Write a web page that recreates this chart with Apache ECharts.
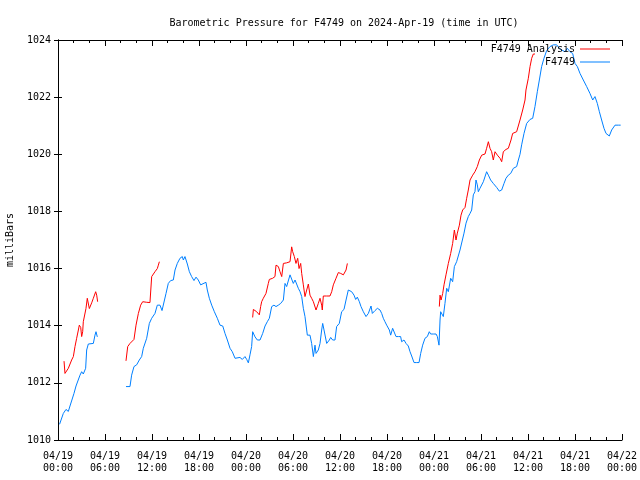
<!DOCTYPE html>
<html>
<head>
<meta charset="utf-8">
<script src="https://cdn.jsdelivr.net/npm/echarts@6/dist/echarts.min.js"></script>
<style>html,body{margin:0;padding:0;background:#fff;}#c{width:640px;height:480px;}</style>
</head>
<body>
<div id="c"></div>
<script>
// Hours since 2024-04-19 00:00 UTC; null marks a data gap
const blueHours = [0.2,0.68,1.02,1.32,1.53,1.74,2.04,2.3,2.47,2.81,3.02,3.23,3.53,3.66,3.87,4.09,4.51,4.72,4.85,5.02,5.06,
  6.5,
  8.68,9.19,9.4,9.7,10.04,10.38,10.68,10.89,11.32,11.66,11.96,12.38,12.68,13.02,13.28,13.53,13.79,14.08,14.38,14.72,14.94,15.23,15.57,15.87,16.0,16.21,16.51,16.77,17.06,17.36,17.62,17.91,18.21,18.43,18.89,19.06,19.32,19.62,19.96,20.34,20.68,21.03,21.32,21.62,21.96,22.25,22.6,22.81,23.23,23.53,23.87,24.09,24.3,24.51,24.72,24.85,25.15,25.45,25.79,26.13,26.43,26.72,26.98,27.28,27.57,27.83,28.13,28.43,28.77,28.98,29.19,29.4,29.62,29.75,30.04,30.26,30.47,30.68,30.9,31.11,31.32,31.53,31.83,32.17,32.38,32.6,32.81,32.94,33.23,33.45,33.66,33.79,33.96,34.3,34.64,34.81,35.06,35.36,35.57,35.91,36.21,36.51,36.77,37.06,37.28,37.49,37.79,38.0,38.21,38.47,38.68,38.98,39.32,39.62,39.96,40.13,40.47,40.77,41.11,41.32,41.53,41.74,41.96,42.3,42.47,42.72,42.94,43.15,43.45,43.74,43.87,44.17,44.43,44.72,44.94,45.15,45.45,45.79,46.09,46.3,46.55,46.85,47.15,47.4,47.57,47.91,48.26,48.43,48.64,48.77,48.85,49.19,49.4,49.62,49.83,50.13,50.38,50.6,50.89,51.11,51.32,51.53,51.83,52.09,52.38,52.6,52.81,53.02,53.23,53.36,53.53,53.66,53.87,54.09,54.3,54.51,54.72,54.94,55.23,55.57,56.0,56.34,56.64,56.94,57.19,57.49,57.79,58.13,58.55,58.77,58.98,59.19,59.49,59.83,60.26,60.6,60.89,61.19,61.45,61.74,62.04,62.38,62.81,63.23,63.66,64.0,64.3,64.72,65.02,65.36,65.7,66.0,66.3,66.64,67.06,67.49,67.91,68.26,68.55,68.85,69.11,69.4,69.7,69.96,70.13,70.38,70.68,70.89,71.11,71.53,71.83];
const bluePressure = [1010.55,1010.93,1011.07,1011.0,1011.19,1011.19,1011.63,1011.89,1011.93,1012.27,1012.39,1012.31,1012.51,1013.15,1013.36,1013.38,1013.38,1013.67,1013.79,1013.61,1013.6,
  null,
  1011.87,1011.87,1012.27,1012.57,1012.63,1012.8,1012.92,1013.21,1013.56,1014.08,1014.26,1014.43,1014.72,1014.72,1014.53,1014.53,1015.13,1015.48,1015.58,1015.6,1015.95,1016.18,1016.36,1016.42,1016.3,1016.42,1016.16,1015.89,1015.72,1015.58,1015.7,1015.6,1015.43,1015.48,1015.52,1015.25,1014.96,1014.72,1014.49,1014.26,1014.02,1013.99,1013.73,1013.5,1013.21,1013.09,1012.86,1012.92,1012.89,1012.82,1012.92,1012.82,1012.7,1012.98,1013.27,1013.79,1013.61,1013.5,1013.5,1013.73,1013.99,1014.14,1014.26,1014.67,1014.72,1014.67,1014.72,1014.78,1014.9,1015.48,1015.37,1015.43,1015.78,1015.8,1015.48,1015.6,1015.54,1015.31,1015.19,1015.02,1014.61,1014.32,1013.67,1013.67,1013.38,1012.92,1013.32,1013.03,1013.15,1013.38,1013.85,1014.08,1013.85,1013.38,1013.5,1013.59,1013.5,1013.5,1013.97,1014.08,1014.49,1014.57,1014.9,1015.25,1015.31,1015.19,1015.07,1014.92,1015.0,1014.84,1014.67,1014.49,1014.32,1014.43,1014.69,1014.43,1014.53,1014.61,1014.55,1014.43,1014.26,1014.14,1014.02,1013.85,1013.67,1013.91,1013.87,1013.62,1013.62,1013.62,1013.44,1013.5,1013.38,1013.29,1013.09,1012.94,1012.71,1012.71,1012.71,1013.03,1013.32,1013.56,1013.62,1013.79,1013.71,1013.71,1013.71,1013.62,1013.32,1014.2,1014.49,1014.32,1014.78,1015.31,1015.19,1015.66,1015.54,1016.07,1016.24,1016.18,1016.65,1016.71,1017.24,1017.59,1017.82,1017.93,1018.05,1018.58,1018.69,1019.1,1018.93,1018.69,1018.81,1018.75,1019.04,1019.1,1019.39,1019.27,1019.1,1018.98,1018.84,1018.71,1018.75,1018.98,1019.16,1019.27,1019.33,1019.51,1019.57,1019.8,1020.0,1020.33,1020.73,1021.08,1021.22,1021.26,1021.67,1022.19,1022.6,1023.07,1023.36,1023.63,1023.77,1023.83,1023.83,1023.71,1023.65,1023.59,1023.71,1023.59,1023.53,1023.18,1023.07,1022.83,1022.6,1022.37,1022.13,1021.9,1022.02,1021.78,1021.49,1021.2,1020.91,1020.73,1020.79,1020.64,1020.85,1020.91,1021.02,1021.02,1021.02];

const redHours = [0.77,0.89,1.32,1.74,1.96,2.17,2.38,2.6,2.72,2.9,3.02,3.15,3.23,3.57,3.74,4.0,4.3,4.51,4.81,4.94,5.06,
  6.5,
  8.68,8.9,9.19,9.7,9.96,10.26,10.55,10.81,11.32,11.74,11.96,12.38,12.68,12.81,12.94,
  18.0,
  24.85,24.94,25.36,25.7,25.87,26.0,26.21,26.55,26.85,26.98,27.4,27.7,27.83,28.13,28.34,28.56,28.77,29.19,29.62,29.83,29.96,30.17,30.38,30.6,30.77,30.98,31.11,31.32,31.53,31.75,31.96,32.17,32.38,32.6,32.81,32.94,33.23,33.45,33.66,33.74,33.87,34.3,34.72,34.94,35.15,35.49,35.79,36.09,36.43,36.64,36.77,36.94,
  42.0,
  48.68,48.77,48.9,49.11,49.28,49.53,49.83,50.13,50.38,50.6,50.81,50.98,51.24,51.45,51.66,51.96,52.17,52.38,52.6,52.94,53.23,53.53,53.79,54.09,54.51,54.72,54.94,55.15,55.36,55.57,55.79,56.09,56.43,56.64,56.85,57.19,57.49,57.83,58.04,58.55,58.77,58.98,59.32,59.62,59.74,60.04,60.26,60.47,60.68,60.89];
const redPressure = [1012.76,1012.33,1012.51,1012.8,1012.92,1013.27,1013.56,1013.85,1014.02,1013.94,1013.62,1013.79,1014.14,1014.6,1014.96,1014.6,1014.8,1014.96,1015.19,1015.07,1014.84,
  null,
  1012.77,1013.27,1013.38,1013.52,1014.02,1014.43,1014.72,1014.84,1014.82,1014.81,1015.72,1015.89,1016.0,1016.12,1016.24,
  null,
  1014.29,1014.57,1014.49,1014.38,1014.67,1014.84,1014.96,1015.13,1015.48,1015.62,1015.66,1015.72,1016.12,1016.07,1015.89,1015.72,1016.18,1016.2,1016.24,1016.76,1016.59,1016.42,1016.18,1016.36,1016.0,1016.18,1015.83,1015.43,1015.02,1015.25,1015.46,1015.07,1014.96,1014.84,1014.9,1014.55,1014.78,1014.96,1014.72,1014.55,1015.04,1015.04,1015.04,1015.19,1015.43,1015.66,1015.86,1015.83,1015.78,1015.72,1015.95,1016.18,
  null,
  1014.67,1015.07,1014.9,1015.13,1015.43,1015.78,1016.18,1016.53,1016.88,1017.35,1017.0,1017.24,1017.52,1017.87,1018.05,1018.14,1018.46,1018.75,1019.1,1019.27,1019.39,1019.57,1019.8,1019.97,1020.01,1020.21,1020.44,1020.21,1020.09,1019.8,1020.09,1019.97,1019.86,1019.74,1020.09,1020.17,1020.21,1020.5,1020.73,1020.79,1020.85,1021.2,1021.55,1021.9,1022.25,1022.66,1023.07,1023.36,1023.51,1023.51];

const xTickLabels = ['04/19\n00:00','04/19\n06:00','04/19\n12:00','04/19\n18:00','04/20\n00:00','04/20\n06:00','04/20\n12:00','04/20\n18:00','04/21\n00:00','04/21\n06:00','04/21\n12:00','04/21\n18:00','04/22\n00:00'];
const seriesNames = ['F4749 Analysis', 'F4749'];
const titleText = 'Barometric Pressure for F4749 on 2024-Apr-19 (time in UTC)';
const yAxisName = 'milliBars';

const FONT = 'DejaVu Sans Mono';
const pairs = (xs, ys) => xs.map((x, i) => [x, ys[i]]);

const chart = echarts.init(document.getElementById('c'), null, {renderer: 'canvas'});
const xCommon = {
  type: 'value', min: 0, max: 72, interval: 6,
  axisLine: {show: true, lineStyle: {color: '#000', width: 1}},
  axisTick: {show: true, inside: true, length: 6, lineStyle: {color: '#000'}},
  minorTick: {show: true, splitNumber: 3, length: 3, lineStyle: {color: '#000'}},
  splitLine: {show: false}
};
const yCommon = {
  type: 'value', min: 1010, max: 1024, interval: 2,
  axisLine: {show: true, lineStyle: {color: '#000', width: 1}},
  axisTick: {show: true, inside: true, length: 4, lineStyle: {color: '#000'}},
  splitLine: {show: false}
};
chart.setOption({
  animation: false,
  backgroundColor: '#fff',
  title: {
    text: titleText, left: 339, top: 13, textAlign: 'center',
    textStyle: {fontFamily: FONT, fontSize: 10, fontWeight: 'normal', color: '#000'}
  },
  legend: {
    orient: 'vertical', right: 25, top: 39, align: 'right',
    itemWidth: 30, itemHeight: 1, itemGap: 3, icon: 'rect',
    textStyle: {fontFamily: FONT, fontSize: 10, color: '#000'},
    data: seriesNames
  },
  grid: {left: 58, right: 18, top: 40, bottom: 40, containLabel: false, outerBoundsMode: 'none'},
  xAxis: [
    Object.assign({}, xCommon, {
      position: 'bottom',
      axisLabel: {
        show: true, color: '#000', fontFamily: FONT, fontSize: 10, lineHeight: 12, margin: 10,
        formatter: v => xTickLabels[Math.round(v / 6)]
      }
    }),
    Object.assign({}, xCommon, {position: 'top', axisLabel: {show: false}})
  ],
  yAxis: [
    Object.assign({}, yCommon, {
      position: 'left',
      name: yAxisName, nameLocation: 'middle', nameRotate: 90, nameGap: 43,
      nameTextStyle: {fontFamily: FONT, fontSize: 10, color: '#000'},
      axisLabel: {color: '#000', fontFamily: FONT, fontSize: 10, margin: 7, formatter: v => String(v)}
    }),
    Object.assign({}, yCommon, {position: 'right', axisLabel: {show: false}})
  ],
  series: [
    {
      name: seriesNames[0], type: 'line', xAxisIndex: 0, yAxisIndex: 0,
      data: pairs(redHours, redPressure), showSymbol: false, symbol: 'none',
      connectNulls: false, color: '#ff0000', lineStyle: {width: 1, color: '#ff0000'}
    },
    {
      name: seriesNames[1], type: 'line', xAxisIndex: 0, yAxisIndex: 0,
      data: pairs(blueHours, bluePressure), showSymbol: false, symbol: 'none',
      connectNulls: false, color: '#0080ff', lineStyle: {width: 1, color: '#0080ff'}
    }
  ]
});
</script>
</body>
</html>
